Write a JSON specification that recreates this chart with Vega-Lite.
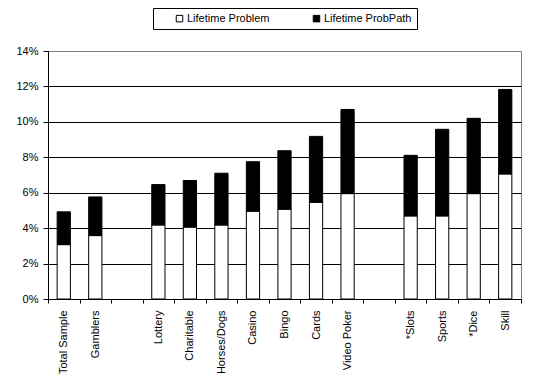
{
  "$schema": "https://vega.github.io/schema/vega-lite/v6.json",
  "width": 473,
  "height": 248,
  "autosize": "none",
  "padding": {"left": 48, "top": 51, "right": 37, "bottom": 91},
  "background": "white",
  "config": {
    "font": "Liberation Sans",
    "view": {"stroke": "#808080", "strokeWidth": 1}
  },
  "data": {
    "values": [
      {"category": "Total Sample", "series": "Lifetime Problem", "value": 0.0307},
      {"category": "Total Sample", "series": "Lifetime ProbPath", "value": 0.0185},
      {"category": "Gamblers", "series": "Lifetime Problem", "value": 0.0358},
      {"category": "Gamblers", "series": "Lifetime ProbPath", "value": 0.0218},
      {"category": "Lottery", "series": "Lifetime Problem", "value": 0.0418},
      {"category": "Lottery", "series": "Lifetime ProbPath", "value": 0.0228},
      {"category": "Charitable", "series": "Lifetime Problem", "value": 0.0406},
      {"category": "Charitable", "series": "Lifetime ProbPath", "value": 0.0263},
      {"category": "Horses/Dogs", "series": "Lifetime Problem", "value": 0.0418},
      {"category": "Horses/Dogs", "series": "Lifetime ProbPath", "value": 0.0292},
      {"category": "Casino", "series": "Lifetime Problem", "value": 0.0496},
      {"category": "Casino", "series": "Lifetime ProbPath", "value": 0.0279},
      {"category": "Bingo", "series": "Lifetime Problem", "value": 0.0507},
      {"category": "Bingo", "series": "Lifetime ProbPath", "value": 0.0330},
      {"category": "Cards", "series": "Lifetime Problem", "value": 0.0546},
      {"category": "Cards", "series": "Lifetime ProbPath", "value": 0.0372},
      {"category": "Video Poker", "series": "Lifetime Problem", "value": 0.0595},
      {"category": "Video Poker", "series": "Lifetime ProbPath", "value": 0.0475},
      {"category": "*Slots", "series": "Lifetime Problem", "value": 0.0469},
      {"category": "*Slots", "series": "Lifetime ProbPath", "value": 0.0342},
      {"category": "Sports", "series": "Lifetime Problem", "value": 0.0469},
      {"category": "Sports", "series": "Lifetime ProbPath", "value": 0.0489},
      {"category": "*Dice", "series": "Lifetime Problem", "value": 0.0595},
      {"category": "*Dice", "series": "Lifetime ProbPath", "value": 0.0425},
      {"category": "Skill", "series": "Lifetime Problem", "value": 0.0706},
      {"category": "Skill", "series": "Lifetime ProbPath", "value": 0.0477}
    ]
  },
  "mark": {"type": "bar", "stroke": "black", "strokeWidth": 1, "width": {"band": 0.42}},
  "encoding": {
    "x": {
      "field": "category",
      "type": "nominal",
      "scale": {
        "domain": ["Total Sample", "Gamblers", " ", "Lottery", "Charitable", "Horses/Dogs", "Casino", "Bingo", "Cards", "Video Poker", "  ", "*Slots", "Sports", "*Dice", "Skill"],
        "paddingInner": 0,
        "paddingOuter": 0
      },
      "axis": {
        "title": null,
        "labelAngle": 270,
        "labelFontSize": 11,
        "labelColor": "black",
        "tickBand": "extent",
        "tickSize": 4,
        "tickColor": "black",
        "domainColor": "black",
        "labelPadding": 7,
        "grid": false
      }
    },
    "y": {
      "field": "value",
      "type": "quantitative",
      "stack": "zero",
      "scale": {"domain": [0, 0.14], "nice": false},
      "axis": {
        "title": null,
        "values": [0, 0.02, 0.04, 0.06, 0.08, 0.1, 0.12, 0.14],
        "format": ".0%",
        "labelFontSize": 11,
        "labelColor": "black",
        "tickSize": 5,
        "tickColor": "black",
        "domainColor": "black",
        "labelPadding": 5,
        "grid": true,
        "gridColor": {"condition": {"test": "datum.value >= 0.139", "value": "#808080"}, "value": "black"},
        "gridOpacity": 1
      }
    },
    "color": {
      "field": "series",
      "type": "nominal",
      "scale": {"domain": ["Lifetime Problem", "Lifetime ProbPath"], "range": ["white", "black"]},
      "legend": {
        "title": null,
        "orient": "none",
        "legendX": 105,
        "legendY": -43,
        "direction": "horizontal",
        "strokeColor": "black",
        "padding": 5,
        "symbolType": "square",
        "symbolSize": 42,
        "symbolStrokeColor": "black",
        "symbolStrokeWidth": 1,
        "symbolOpacity": 1,
        "symbolOffset": 16,
        "labelOffset": 2,
        "labelFontSize": 11,
        "labelColor": "black",
        "columnPadding": 25,
        "labelExpr": "datum.label == 'Lifetime ProbPath' ? datum.label + '\u00a0\u00a0\u00a0\u00a0\u00a0' : datum.label"
      }
    },
    "order": {"field": "series", "sort": "descending"}
  }
}
